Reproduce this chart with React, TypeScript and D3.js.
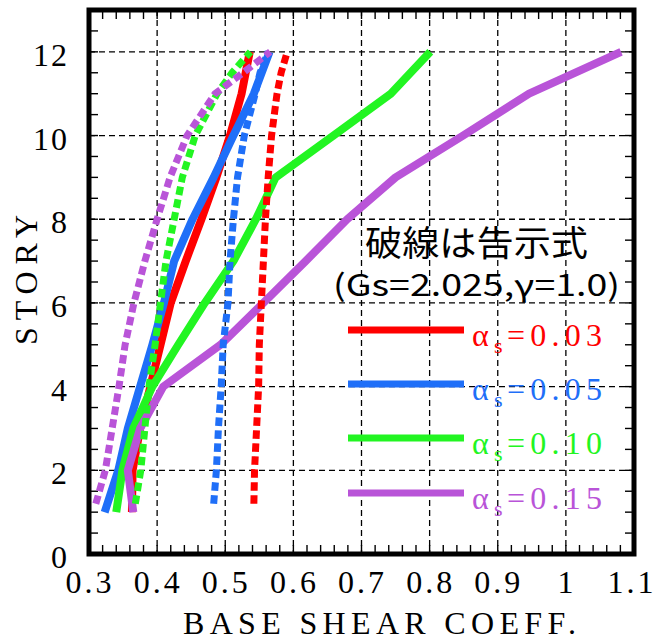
import React from "react";
import * as d3 from "d3";

const stories = [1, 2, 3, 4, 5, 6, 7, 8, 9, 10, 11, 12];
const codeStories = [1.2, 2, 3, 4, 5, 6, 7, 8, 9, 10, 11, 11.5, 12];

const seriesNames = ["0.03", "0.05", "0.10", "0.15"];
const seriesColors = ["#ff0000", "#1f6ff8", "#22f522", "#b954d8"];

const analysis003 = [0.363, 0.364, 0.375, 0.39, 0.405, 0.42, 0.442, 0.465, 0.487, 0.507, 0.524, 0.536];
const analysis005 = [0.323, 0.343, 0.357, 0.375, 0.393, 0.41, 0.425, 0.452, 0.483, 0.512, 0.542, 0.565];
const analysis010 = [0.34, 0.349, 0.365, 0.393, 0.431, 0.47, 0.512, 0.545, 0.574, 0.659, 0.743, 0.801];
const analysis015 = [0.365, 0.357, 0.375, 0.409, 0.493, 0.556, 0.618, 0.679, 0.75, 0.849, 0.946, 1.081];

const code003 = [0.542, 0.543, 0.546, 0.549, 0.55, 0.553, 0.556, 0.559, 0.563, 0.568, 0.576, 0.582, 0.591];
const code005 = [0.483, 0.487, 0.49, 0.494, 0.497, 0.504, 0.507, 0.512, 0.518, 0.528, 0.544, 0.551, 0.563];
const code010 = [0.368, 0.376, 0.382, 0.388, 0.397, 0.405, 0.413, 0.425, 0.437, 0.456, 0.488, 0.51, 0.537];
const code015 = [0.31, 0.324, 0.334, 0.344, 0.353, 0.366, 0.382, 0.4, 0.419, 0.444, 0.485, 0.526, 0.566];

const xTicks = [0.3, 0.4, 0.5, 0.6, 0.7, 0.8, 0.9, 1, 1.1];
const yTicks = [0, 2, 4, 6, 8, 10, 12];

const analysisSeries = [analysis003, analysis005, analysis010, analysis015];
const codeSeries = [code003, code005, code010, code015];

const SERIF = { fontFamily: '"Liberation Serif"' };
const CJK = { fontFamily: '"Noto Sans CJK JP"' };

export default function App() {
  const L = 89, R = 634, T = 10, B = 554;
  const x = d3.scaleLinear().domain([0.3, 1.1]).range([L, R]);
  const y = d3.scaleLinear().domain([0, 13]).range([B, T]);

  const line = d3
    .line<[number, number]>()
    .x((d) => x(d[0]))
    .y((d) => y(d[1]));

  const xMinor = d3.range(0.32, 1.1, 0.02).filter((v) => Math.abs(v * 10 - Math.round(v * 10)) > 1e-6);
  const yMinor = d3.range(0.5, 13, 0.5).filter((v) => Math.abs(v / 2 - Math.round(v / 2)) > 1e-6);
  const tickLen = 9;

  const legendY = [330, 384, 438, 493];

  return (
    <svg width={656} height={640} style={{ display: "block", position: "absolute", left: 0, top: 0 }}>
      <rect x={0} y={0} width={656} height={640} fill="#fff" />
      <g stroke="#000" strokeWidth={1.3} strokeDasharray="6 4" fill="none">
        {xTicks.slice(1, -1).map((t) => (
          <line key={"gx" + t} x1={x(t)} x2={x(t)} y1={T} y2={B} />
        ))}
        {yTicks.slice(1).map((t) => (
          <line key={"gy" + t} x1={L} x2={R} y1={y(t)} y2={y(t)} />
        ))}
      </g>
      <g stroke="#000" strokeWidth={1.4}>
        {xMinor.concat(xTicks).map((t, i) => (
          <g key={"tx" + i}>
            <line x1={x(t)} x2={x(t)} y1={B} y2={B - tickLen} />
            <line x1={x(t)} x2={x(t)} y1={T} y2={T + tickLen} />
          </g>
        ))}
        {yMinor.concat(yTicks).map((t, i) => (
          <g key={"ty" + i}>
            <line x1={L} x2={L + tickLen} y1={y(t)} y2={y(t)} />
            <line x1={R} x2={R - tickLen} y1={y(t)} y2={y(t)} />
          </g>
        ))}
      </g>
      {analysisSeries.map((s, i) => (
        <path
          key={"a" + i}
          d={line(s.map((v, j) => [v, stories[j]] as [number, number])) || ""}
          fill="none"
          stroke={seriesColors[i]}
          strokeWidth={8}
          strokeLinejoin="round"
        />
      ))}
      {codeSeries.map((s, i) => (
        <path
          key={"c" + i}
          d={line(s.map((v, j) => [v, codeStories[j]] as [number, number])) || ""}
          fill="none"
          stroke={seriesColors[i]}
          strokeWidth={7}
          strokeDasharray="8.5 4.5"
        />
      ))}
      <rect x={L} y={T} width={R - L} height={B - T} fill="none" stroke="#000" strokeWidth={5} />
      {yTicks.map((t) => (
        <text key={"ly" + t} x={69} y={y(t) + 14} textAnchor="end" letterSpacing={2} fontSize={32} style={SERIF}>
          {String(t)}
        </text>
      ))}
      {xTicks.map((t) => (
        <text
          key={"lx" + t}
          x={x(t) + (t === 1.1 ? -2 : 1)}
          y={593}
          textAnchor="middle"
          letterSpacing={3}
          fontSize={32}
          style={SERIF}
        >
          {String(t)}
        </text>
      ))}
      <text x={183} y={634} fontSize={32} textLength={393} lengthAdjust="spacing" style={SERIF}>
        BASE SHEAR COEFF.
      </text>
      <text
        transform="translate(37,280) rotate(-90)"
        textAnchor="middle"
        fontSize={32}
        textLength={130}
        lengthAdjust="spacing"
        style={SERIF}
      >
        STORY
      </text>
      <text x={365} y={256} fontSize={35} textLength={223} lengthAdjust="spacingAndGlyphs" style={CJK}>
        破線は告示式
      </text>
      <text x={333} y={296} fontSize={30} textLength={287} lengthAdjust="spacingAndGlyphs" style={CJK}>
        (Gs=2.025,γ=1.0)
      </text>
      {seriesNames.map((n, i) => (
        <g key={"lg" + i} fill={seriesColors[i]}>
          <line x1={348} x2={464} y1={legendY[i]} y2={legendY[i]} stroke={seriesColors[i]} strokeWidth={7} />
          <text x={472} y={legendY[i] + 16} fontSize={32} style={SERIF}>
            α
          </text>
          <text x={494} y={legendY[i] + 23} fontSize={22} style={SERIF}>
            s
          </text>
          <text x={507} y={legendY[i] + 16} fontSize={32} textLength={95} lengthAdjust="spacing" style={SERIF}>
            {"=" + n}
          </text>
        </g>
      ))}
    </svg>
  );
}
